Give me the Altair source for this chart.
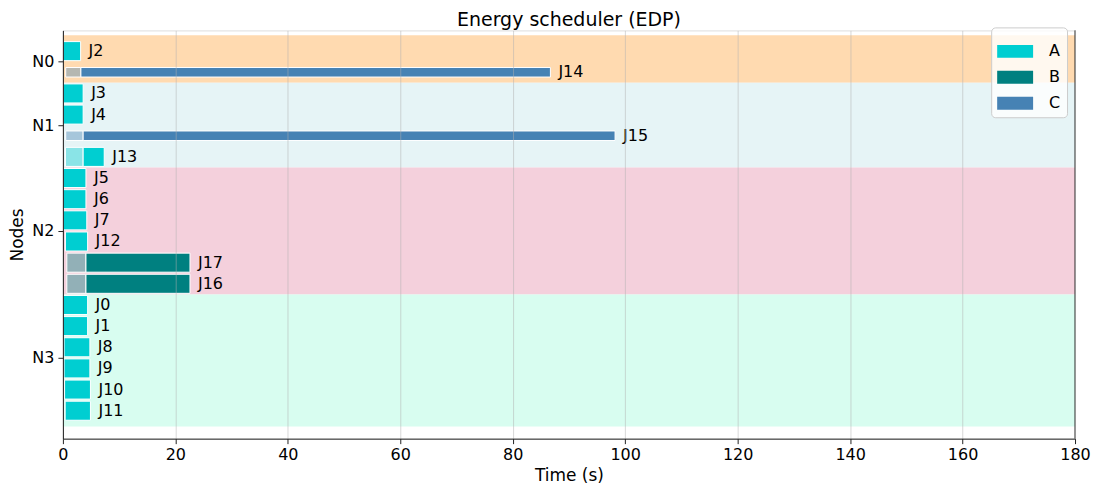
import altair as alt
import pandas as pd

# ---- data (rows listed top to bottom) ----
jobs = ["J2", "J14", "J3", "J4", "J15", "J13", "J5", "J6", "J7", "J12",
        "J17", "J16", "J0", "J1", "J8", "J9", "J10", "J11"]
nodes = ["N0", "N0", "N1", "N1", "N1", "N1", "N2", "N2", "N2", "N2",
         "N2", "N2", "N3", "N3", "N3", "N3", "N3", "N3"]
types = ["A", "C", "A", "A", "C", "A", "A", "A", "A", "A",
         "B", "B", "A", "A", "A", "A", "A", "A"]
submit = [0, 0.5, 0, 0, 0.5, 0.45, 0, 0, 0.05, 0.45,
          0.7, 0.7, 0, 0, 0.2, 0.2, 0.3, 0.4]
start = [0, 3.2, 0, 0, 3.6, 3.6, 0, 0, 0.05, 0.45,
         4.1, 4.1, 0, 0, 0.2, 0.2, 0.3, 0.4]
end = [3.15, 86.7, 3.6, 3.6, 98.2, 7.35, 4.1, 4.1, 4.25, 4.4,
       22.6, 22.6, 4.4, 4.4, 4.8, 4.8, 4.9, 4.9]

node_names = ["N0", "N1", "N2", "N3"]
band_lo = [-0.75, 1.5, 5.5, 11.5]
band_hi = [1.5, 5.5, 11.5, 17.75]
band_colors = ["#ffdab0", "#e6f4f6", "#f4d0dc", "#d8fdf0"]

type_names = ["A", "B", "C"]
type_colors = ["#00ced1", "#008080", "#4682b4"]

x_ticks = list(range(0, 181, 20))

# ---- tables ----
df = pd.DataFrame({"job": jobs, "node": nodes, "type": types,
                   "submit": submit, "start": start, "end": end})
df["row"] = range(len(df))
wait_df = df[df["submit"] < df["start"]]

bands = pd.DataFrame({"node": node_names, "lo": band_lo, "hi": band_hi})
node_ticks = [
    (df.loc[df.node == n, "row"].min() + df.loc[df.node == n, "row"].max()) / 2
    for n in node_names
]
label_expr = ("[" + ",".join(f"'{n}'" for n in node_names) + "][indexof(["
              + ",".join(str(v) for v in node_ticks) + "], datum.value)]")

FONT = "DejaVu Sans"
W, H = 1014, 409

yscale = alt.Scale(domain=[-0.98, 18.32], reverse=True, nice=False, zero=False)
xscale = alt.Scale(domain=[0, 180], nice=False, zero=False)

xaxis = alt.Axis(values=x_ticks, title="Time (s)", grid=True, zindex=1,
                 gridColor="#b0b0b0", gridOpacity=0.5, domainColor="#222",
                 tickColor="#222", tickSize=5, labelPadding=3,
                 labelFontSize=16, titleFontSize=17, labelFont=FONT,
                 titleFont=FONT, titleFontWeight="normal", labelColor="black",
                 titleColor="black", titleBaseline="alphabetic", titleY=42,
                 labelFlush=False)
yaxis = alt.Axis(values=node_ticks, labelExpr=label_expr, title="Nodes",
                 grid=False, zindex=1, domainColor="#222", tickColor="#222",
                 tickSize=5, labelPadding=4, labelFontSize=16, titleFontSize=17,
                 labelFont=FONT, titleFont=FONT, titleFontWeight="normal",
                 labelColor="black", titleColor="black", titlePadding=5)

band_layer = alt.Chart(bands).mark_rect().encode(
    y=alt.Y("lo:Q", scale=yscale, axis=yaxis),
    y2="hi:Q",
    fill=alt.Fill("node:N", scale=alt.Scale(domain=node_names, range=band_colors),
                  legend=None),
)

color_scale = alt.Scale(domain=type_names, range=type_colors)
legend = alt.Legend(
    title=None, orient="none", legendX=930, legendY=-3,
    fillColor="rgba(255,255,255,0.8)", strokeColor="#cccccc", cornerRadius=4,
    padding=6, symbolType="M-1,-0.36L1,-0.36L1,0.36L-1,0.36Z", symbolSize=1296,
    symbolStrokeWidth=0, symbolOpacity=1, labelFontSize=16, labelFont=FONT,
    labelColor="black", labelOffset=16, rowPadding=0,
)


def with_heights(chart):
    return chart.transform_calculate(
        h="datum.type == 'C' ? 0.45 : 0.9"
    ).transform_calculate(
        y0="datum.row - datum.h / 2", y1="datum.row + datum.h / 2"
    )


wait_layer = with_heights(alt.Chart(wait_df)).mark_rect(
    fillOpacity=0.4, stroke="white", strokeWidth=1
).encode(
    x=alt.X("submit:Q", scale=xscale, axis=xaxis),
    x2="start:Q",
    y=alt.Y("y0:Q", scale=yscale, axis=yaxis),
    y2="y1:Q",
    color=alt.Color("type:N", scale=color_scale, legend=legend),
)

exec_layer = with_heights(alt.Chart(df)).mark_rect(
    stroke="white", strokeWidth=1
).encode(
    x=alt.X("start:Q", scale=xscale, axis=xaxis),
    x2="end:Q",
    y=alt.Y("y0:Q", scale=yscale, axis=yaxis),
    y2="y1:Q",
    color=alt.Color("type:N", scale=color_scale, legend=legend),
)

text_layer = alt.Chart(df).mark_text(
    align="left", baseline="middle", dx=8, fontSize=16, font=FONT, color="black"
).encode(
    x=alt.X("end:Q", scale=xscale, axis=xaxis),
    y=alt.Y("row:Q", scale=yscale, axis=yaxis),
    text="job:N",
)

frame_layer = alt.Chart(pd.DataFrame({"edge": [180]})).mark_rule(
    color="#222", strokeWidth=1
).encode(x=alt.X("edge:Q", scale=xscale, axis=xaxis))

chart = alt.layer(
    band_layer, wait_layer, exec_layer, text_layer, frame_layer
).properties(
    width=W, height=H,
    title=alt.TitleParams("Energy scheduler (EDP)", fontSize=19, font=FONT,
                          fontWeight="normal", color="black", anchor="middle",
                          offset=4, baseline="alphabetic", dy=22.5),
    autosize=alt.AutoSizeParams(type="none"),
    padding={"left": 55, "top": 22, "right": 16, "bottom": 45},
).configure_view(stroke="#222", strokeWidth=1).configure(background="white")

chart.save("out.html", embed_options={"renderer": "svg", "actions": False})
